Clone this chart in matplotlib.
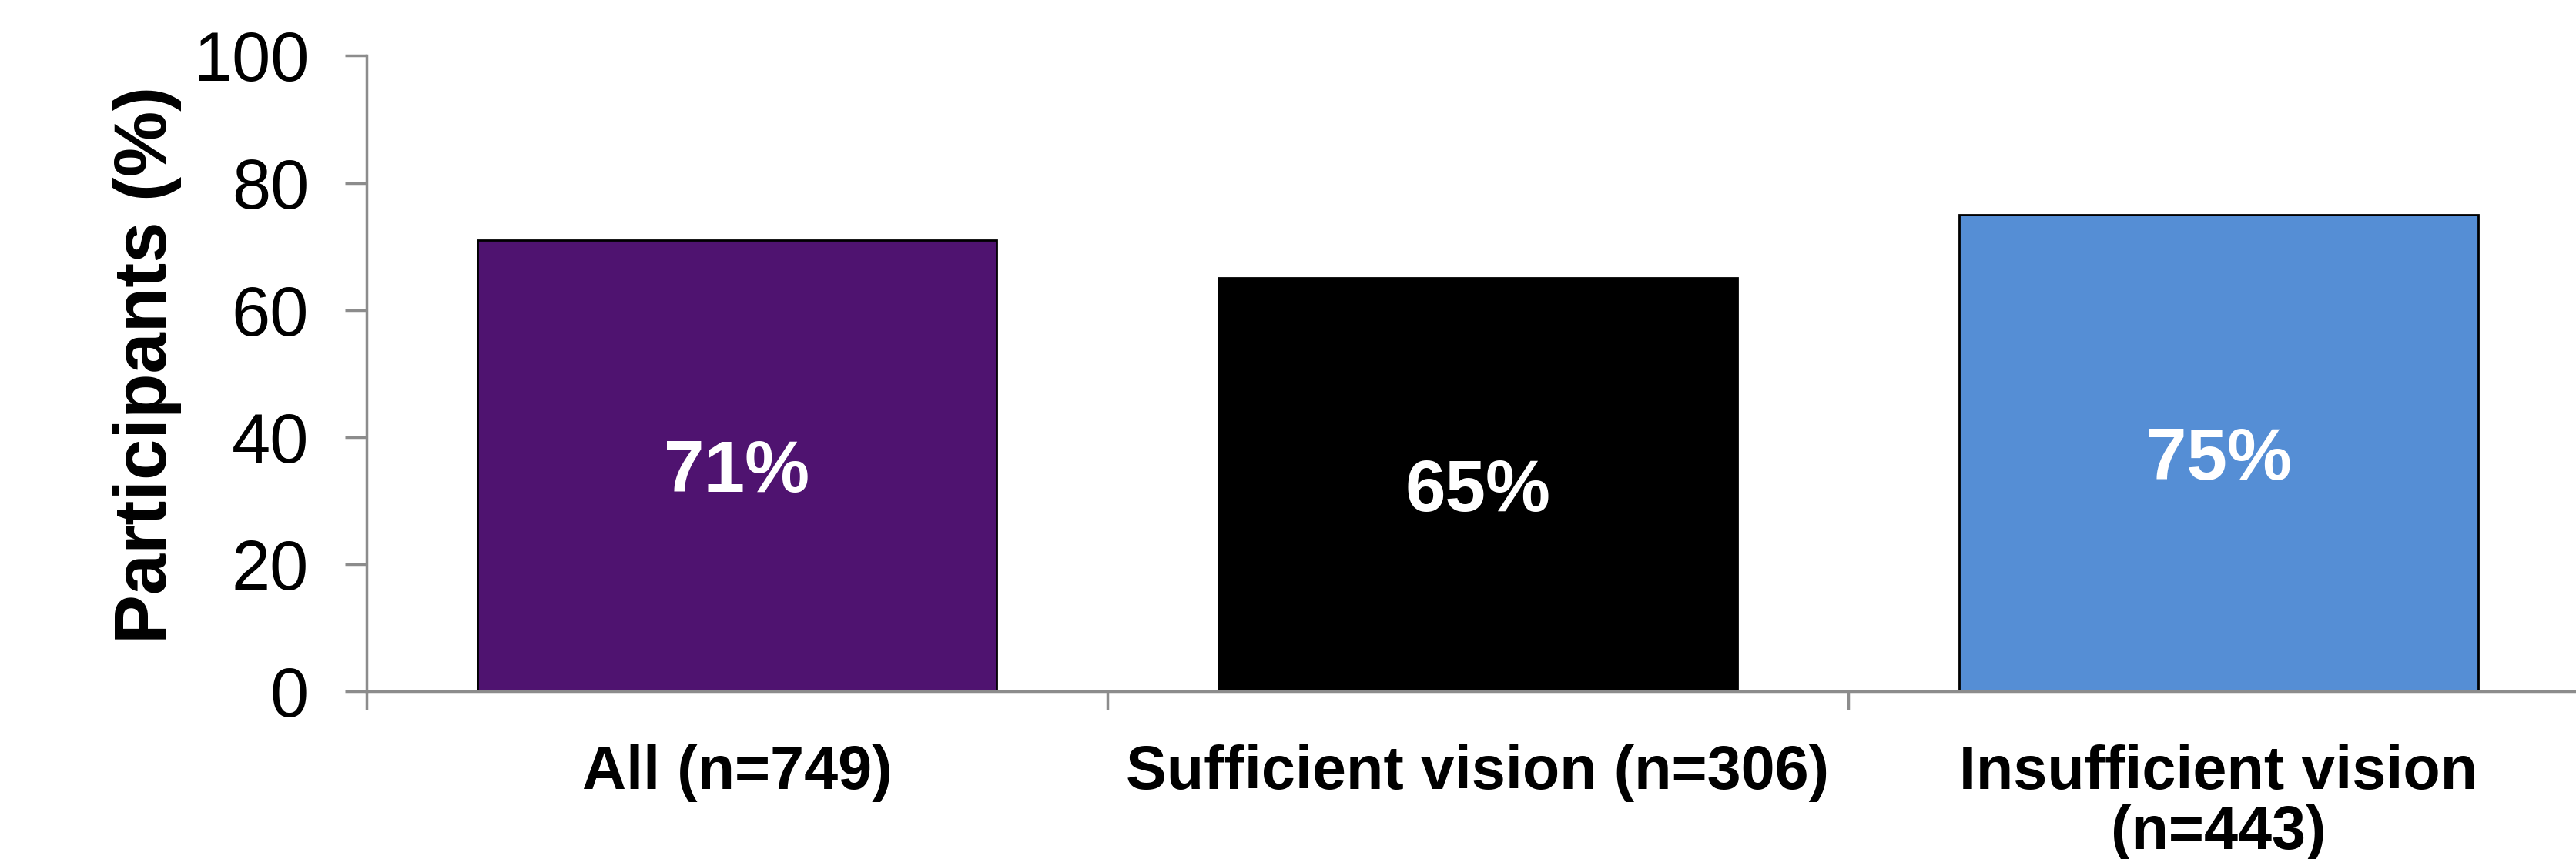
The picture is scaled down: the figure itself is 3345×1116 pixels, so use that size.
import matplotlib
matplotlib.use("Agg")
import matplotlib.pyplot as plt
from matplotlib.ticker import FixedLocator

categories = ["All (n=749)", "Sufficient vision (n=306)", "Insufficient vision\n(n=443)"]
values = [71, 65, 75]
value_labels = ["71%", "65%", "75%"]
colors = ["#4F1370", "#000000", "#558ED5"]
yticks = [0, 20, 40, 60, 80, 100]

plt.rcParams['font.family'] = ['Liberation Sans', 'DejaVu Sans']

fig = plt.figure(figsize=(33.45, 11.16), dpi=100)
ax = fig.add_axes([476/3345, 218/1116, 2886/3345, 825.5/1116])

x = list(range(len(categories)))
bars = ax.bar(x, values, width=0.7, color=colors, edgecolor="black", linewidth=2.0, zorder=2)

for xi, v, lab in zip(x, values, value_labels):
    ax.text(xi, v / 2, lab, ha="center", va="center_baseline", color="white",
            fontsize=68, fontweight="bold", zorder=3)

ax.set_xlim(-0.5, len(categories) - 0.5)
ax.set_ylim(0, 100)
ax.set_yticks(yticks)
ax.set_yticklabels([str(t) for t in yticks], fontsize=65)

ax.set_xticks(x)
ax.set_xticklabels(categories, fontsize=57, fontweight="bold", linespacing=1.05)
ax.xaxis.set_minor_locator(FixedLocator([i - 0.5 for i in range(len(categories) + 1)]))

axis_color = "#8C8C8C"
for side in ["top", "right"]:
    ax.spines[side].set_visible(False)
for side in ["left", "bottom"]:
    ax.spines[side].set_color(axis_color)
    ax.spines[side].set_linewidth(2.5)

ax.tick_params(axis="y", direction="out", length=20, width=2.5, color=axis_color, pad=34)
ax.tick_params(axis="x", which="major", length=0, pad=50)
ax.tick_params(axis="x", which="minor", direction="out", length=17, width=2.5, color=axis_color)

fig.text(191/3345, 1 - 474/1116, "Participants (%)", rotation=90, ha="center", va="center",
         fontsize=69, fontweight="bold")

fig.savefig("out.png", dpi=100)
